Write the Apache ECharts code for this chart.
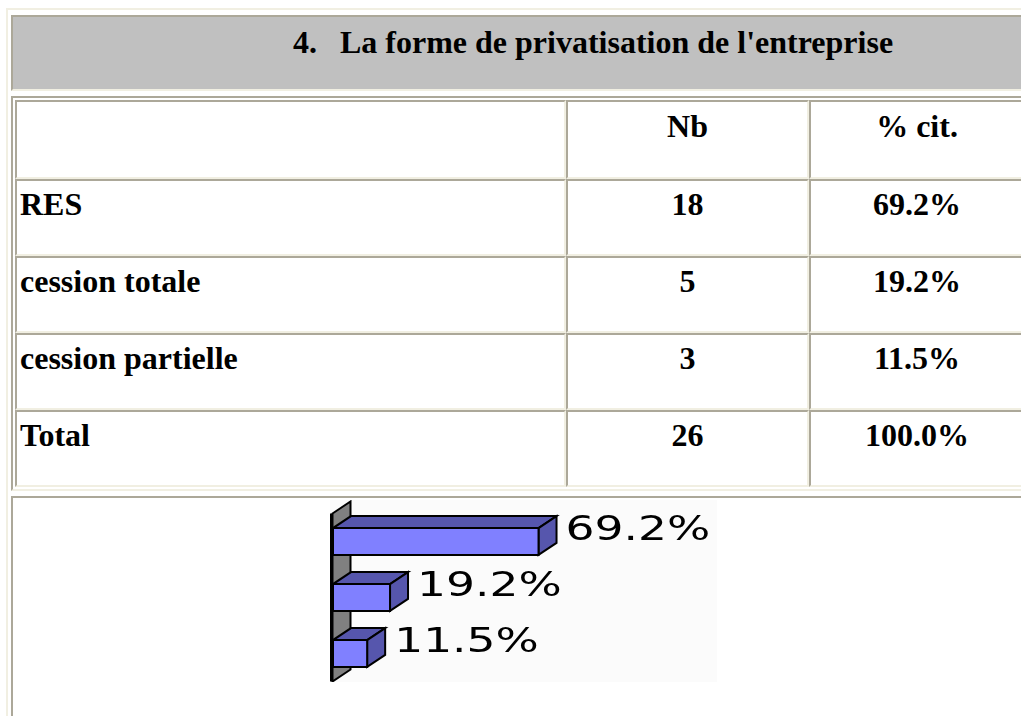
<!DOCTYPE html>
<html>
<head>
<meta charset="utf-8">
<script src="https://cdn.jsdelivr.net/npm/echarts@6/dist/echarts.min.js"></script>
<style>
  html, body { margin: 0; padding: 0; background: #fff; overflow: hidden; width: 1021px; height: 716px; }
  body { font-family: "Liberation Serif", "Times New Roman", serif; font-weight: bold; font-size: 32px; color: #000; }
  .outer { position: absolute; left: 6px; top: 8px; width: 1028px; table-layout: fixed; border-collapse: separate; border-spacing: 3px 5px;
    border: 2px solid; border-color: #f1efe2 #aca899 #aca899 #f1efe2; }
  .outer > tbody > tr > td { border: 2px solid; border-color: #aca899 #f1efe2 #f1efe2 #aca899; padding: 0; }
  .title { background: #c0c0c0; height: 72px; vertical-align: top; }
  .title div { padding: 7px 0 0 280px; line-height: normal; white-space: nowrap; }
  .title .lbl { margin-left: 23px; }
  .outer > tbody > tr > td.wrap { padding: 2px; }
  .inner { width: 1010px; table-layout: fixed; border-collapse: separate; border-spacing: 0; }
  .inner td { border: 2px solid; border-color: #aca899 #f1efe2 #f1efe2 #aca899; padding: 0; vertical-align: top; }
  .inner td div { box-sizing: border-box; height: 73px; padding: 5px 3px 0 3px; white-space: nowrap; }
  .inner tr.head td div { height: 75px; padding-top: 6px; }
  .inner td.c { text-align: center; }
  .chartcell { height: 300px; }
  #chart { position: absolute; left: 330px; top: 500px; width: 387px; height: 182px; }
</style>
</head>
<body>
<table class="outer">
  <tr><td class="title"><div><span>4.</span><span class="lbl">La forme de privatisation de l'entreprise</span></div></td></tr>
  <tr><td class="wrap"><table class="inner" id="tbl"></table></td></tr>
  <tr><td class="chartcell"></td></tr>
</table>
<div id="chart"></div>
<script>
var categories = ['RES', 'cession totale', 'cession partielle'];
var counts = [18, 5, 3];
var percents = [69.2, 19.2, 11.5];
var headers = ['', 'Nb', '% cit.'];
var totalLabel = 'Total';
var totalCount = 26;
var totalPercent = 100.0;

// table
var colW = [551, 243, 216];
function row(cells, cls) {
  var tr = document.createElement('tr');
  if (cls) tr.className = cls;
  cells.forEach(function (t, i) {
    var td = document.createElement('td');
    td.style.width = (colW[i] - 4) + 'px';
    if (i > 0) td.className = 'c';
    var d = document.createElement('div');
    d.textContent = t;
    td.appendChild(d);
    tr.appendChild(td);
  });
  document.getElementById('tbl').appendChild(tr);
}
row(headers, 'head');
categories.forEach(function (c, i) {
  row([c, String(counts[i]), percents[i].toFixed(1) + '%']);
});
row([totalLabel, String(totalCount), totalPercent.toFixed(1) + '%']);

// chart
var chart = echarts.init(document.getElementById('chart'));
var DX = 18, DY = -12;
var front = '#8080ff', dark = '#5656ad', wallColor = '#808080';

function renderWall(params, api) {
  var cs = params.coordSys;
  var x = cs.x - 0.5, t = cs.y, b = cs.y + cs.height;
  return {
    type: 'group',
    children: [
      {
        type: 'polygon',
        shape: { points: [[x, t], [x + DX, t + DY], [x + DX, b + DY], [x, b]] },
        style: { fill: wallColor, stroke: '#000', lineWidth: 2 }
      },
      {
        type: 'line',
        shape: { x1: x - 1, y1: t, x2: x - 1, y2: b },
        style: { stroke: '#000', lineWidth: 3 }
      }
    ]
  };
}

function renderBar(params, api) {
  var v = api.value(0), c = api.value(1);
  var p0 = api.coord([0, c]);
  var p1 = api.coord([v, c]);
  var h = api.size([0, 1])[1] * 0.48;
  var x0 = p0[0], x1 = p1[0];
  var yT = p0[1] - h / 2, yB = p0[1] + h / 2;
  return {
    type: 'group',
    children: [
      {
        type: 'polygon',
        shape: { points: [[x0, yT], [x1, yT], [x1 + DX, yT + DY], [x0 + DX, yT + DY]] },
        style: { fill: dark, stroke: '#000', lineWidth: 2 }
      },
      {
        type: 'polygon',
        shape: { points: [[x1, yT], [x1 + DX, yT + DY], [x1 + DX, yB + DY], [x1, yB]] },
        style: { fill: dark, stroke: '#000', lineWidth: 2 }
      },
      {
        type: 'rect',
        shape: { x: x0, y: yT, width: x1 - x0, height: h },
        style: { fill: front, stroke: '#000', lineWidth: 2 }
      },
      {
        type: 'text',
        x: x1 + DX + 9,
        y: p0[1] + DY + 2,
        scaleX: 1.38,
        style: {
          text: v.toFixed(1) + '%',
          fill: '#000',
          fontSize: 33,
          fontFamily: 'DejaVu Sans',
          align: 'left',
          verticalAlign: 'middle'
        }
      }
    ]
  };
}

chart.setOption({
  backgroundColor: '#fbfbfb',
  animation: false,
  grid: { left: 3, top: 13.5, width: 297, height: 168 },
  xAxis: { type: 'value', min: 0, max: 100, show: false },
  yAxis: { type: 'category', data: categories, inverse: true, show: false },
  series: [
    { type: 'custom', renderItem: renderWall, data: [[0, 0]], silent: true },
    {
      type: 'custom',
      renderItem: renderBar,
      encode: { x: 0, y: 1 },
      data: percents.map(function (v, i) { return [v, i]; })
    }
  ]
});
</script>
</body>
</html>
